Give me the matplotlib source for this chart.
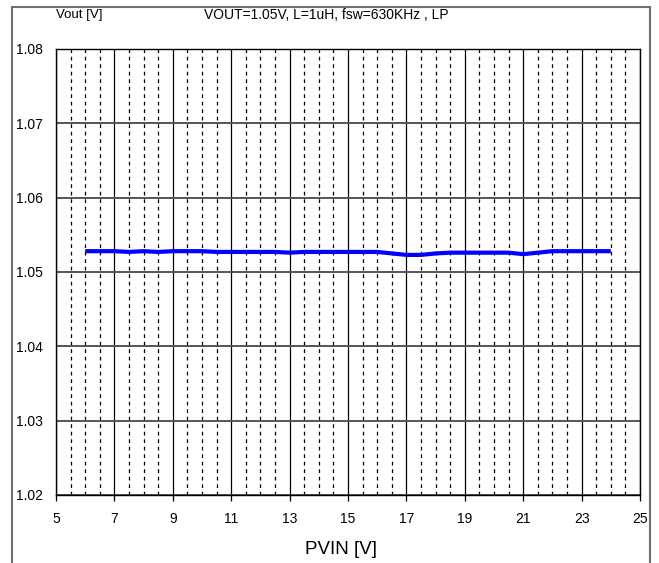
import matplotlib
matplotlib.use('Agg')
import matplotlib.pyplot as plt
from matplotlib.patches import Rectangle
import numpy as np

plt.rcParams['font.family'] = ['Liberation Sans', 'DejaVu Sans']

# data
pvin = [6, 6.5, 7, 7.5, 8, 8.5, 9, 9.5, 10, 10.5, 11, 11.5, 12, 12.5, 13, 13.5,
        14, 14.5, 15, 15.5, 16, 16.5, 17, 17.5, 18, 18.5, 19, 19.5, 20, 20.5,
        21, 21.5, 22, 22.5, 23, 23.5, 24]
vout = [1.0528, 1.0528, 1.0528, 1.0527, 1.0528, 1.0527, 1.0528, 1.0528, 1.0528,
        1.0527, 1.0527, 1.0527, 1.0527, 1.0527, 1.0526, 1.0527, 1.0527, 1.0527,
        1.0527, 1.0527, 1.0527, 1.0525, 1.0523, 1.0523, 1.0525, 1.0526, 1.0526,
        1.0526, 1.0526, 1.0526, 1.0524, 1.0526, 1.0528, 1.0528, 1.0528, 1.0528,
        1.0528]
x_ticks = [5, 7, 9, 11, 13, 15, 17, 19, 21, 23, 25]
y_ticks = [1.02, 1.03, 1.04, 1.05, 1.06, 1.07, 1.08]

fig = plt.figure(figsize=(6.59, 5.63), dpi=100)
ax = fig.add_axes([56/659, 1 - 495/563, 584/659, 446/563])

ax.set_xlim(5, 25)
ax.set_ylim(1.02, 1.08)
ax.set_xticks(x_ticks)
ax.set_xticklabels([str(t) for t in x_ticks], fontsize=10)
ax.set_yticks(y_ticks)
ax.set_yticklabels(['%.2f' % t for t in y_ticks], fontsize=10)
ax.set_xticks(np.arange(5, 25.01, 0.5), minor=True)

# grid
ax.grid(True, which='major', axis='x', color='black', lw=0.9)
ax.grid(True, which='minor', axis='x', color='black', lw=0.9, ls=(0, (3, 3)))
ax.grid(True, which='major', axis='y', color='#555555', lw=1.4)
ax.set_axisbelow(True)

ax.tick_params(axis='x', which='major', direction='out', length=4, width=0.9, pad=8)
ax.tick_params(axis='x', which='minor', length=0)
ax.tick_params(axis='y', length=0, pad=9.5)
for s in ax.spines.values():
    s.set_linewidth(1.0)
    s.set_color('black')

ax.plot(pvin, vout, color='#0000ff', lw=3, solid_capstyle='butt')

fig.text(341/659, 1 - 550/563, 'PVIN [V]', fontsize=13.5, va='center', ha='center')
fig.text(56/659, 1 - 15/563, 'Vout [V]', fontsize=9.5, va='center', ha='left')
fig.text(204/659, 1 - 15/563, 'VOUT=1.05V, L=1uH, fsw=630KHz , LP',
         fontsize=10, va='center', ha='left')

# outer chart border
fig.add_artist(Rectangle((12/659, -0.05), 638/659, 1.05 - 7/563,
                         transform=fig.transFigure, fill=False,
                         edgecolor='#707070', lw=1.5))

fig.savefig('out.png', dpi=100)
